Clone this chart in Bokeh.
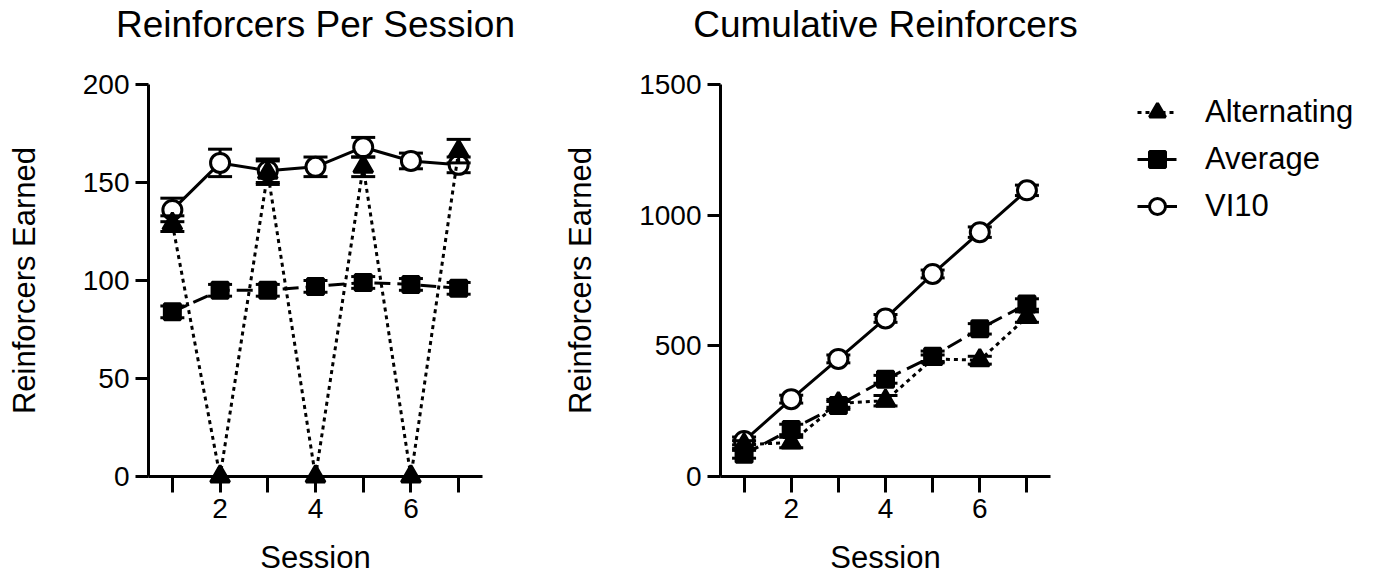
from bokeh.plotting import figure
from bokeh.layouts import row
from bokeh.models import FixedTicker, Legend, LegendItem, ColumnDataSource, Title
from bokeh.embed import file_html
from bokeh.resources import INLINE

# ---- data ----
sessions = [1, 2, 3, 4, 5, 6, 7]
x_ticks = [1, 2, 3, 4, 5, 6, 7]
x_tick_labels = {1: "", 2: "2", 3: "", 4: "4", 5: "", 6: "6", 7: ""}
series_names = ["Alternating", "Average", "VI10"]
titles = ["Reinforcers Per Session", "Cumulative Reinforcers"]

# Reinforcers per session (mean, SEM)
per_alt = [129, 0, 155, 0, 158, 0, 166]
per_alt_err = [4, 0, 6, 0, 5, 0, 6]
per_avg = [84, 95, 95, 97, 99, 98, 96]
per_avg_err = [3, 3, 3, 3, 3, 3, 3]
per_vi = [136, 160, 156, 158, 168, 161, 159]
per_vi_err = [6, 7, 6, 5, 5, 4, 4]
per_yticks = [0, 50, 100, 150, 200]

# Cumulative reinforcers (mean, SEM)
cum_alt = [122, 130, 280, 290, 450, 445, 610]
cum_alt_err = [15, 20, 15, 20, 15, 15, 20]
cum_avg = [85, 180, 272, 372, 460, 565, 660]
cum_avg_err = [15, 20, 15, 15, 20, 20, 20]
cum_vi = [136, 296, 450, 605, 775, 935, 1095]
cum_vi_err = [15, 15, 15, 15, 15, 20, 20]
cum_yticks = [0, 500, 1000, 1500]

FONT = "Liberation Sans"
LW = 3


def add_title(p, text):
    # spacer (closest to the frame) then the real title above it
    p.add_layout(Title(text=" ", text_font_size="1px", standoff=36), "above")
    p.add_layout(Title(text=text, text_font=FONT, text_font_size="37px",
                       text_font_style="normal", align="center",
                       text_color="black", standoff=2), "above")


def style_axes(p, yticks):
    p.xgrid.visible = False
    p.ygrid.visible = False
    p.outline_line_alpha = 0
    p.background_fill_color = "white"
    p.border_fill_color = "white"
    p.xaxis.ticker = FixedTicker(ticks=x_ticks)
    p.xaxis.major_label_overrides = x_tick_labels
    p.yaxis.ticker = FixedTicker(ticks=yticks)
    for ax in (p.xaxis[0], p.yaxis[0]):
        ax.axis_line_width = LW
        ax.axis_line_color = "black"
        ax.major_tick_line_width = LW
        ax.major_tick_line_color = "black"
        ax.major_tick_in = 0
        ax.minor_tick_line_alpha = 0
        ax.major_label_text_font = FONT
        ax.major_label_text_font_size = "28px"
        ax.major_label_text_color = "black"
        ax.axis_label_text_font = FONT
        ax.axis_label_text_font_size = "31px"
        ax.axis_label_text_font_style = "normal"
        ax.axis_label_text_color = "black"
    p.xaxis.major_tick_out = 16
    p.yaxis.major_tick_out = 13
    p.xaxis.major_label_standoff = 6
    p.yaxis.major_label_standoff = 6
    p.xaxis.axis_label_standoff = 19
    p.yaxis.axis_label_standoff = 38


def draw_series(p, y, err, marker, dash, size, fill, with_errors=True,
                level="overlay"):
    lo = [a - b for a, b in zip(y, err)]
    hi = [a + b for a, b in zip(y, err)]
    src = ColumnDataSource(dict(x=sessions, y=y, lo=lo, hi=hi))
    if with_errors:
        p.segment(x0="x", y0="lo", x1="x", y1="hi", source=src, line_width=LW,
                  line_color="black", level=level)
        p.scatter(x="x", y="lo", source=src, marker="dash", size=24,
                  line_width=LW, line_color="black", level=level)
        p.scatter(x="x", y="hi", source=src, marker="dash", size=24,
                  line_width=LW, line_color="black", level=level)
    ln = p.line(x="x", y="y", source=src, line_width=LW, line_color="black",
                line_dash=dash, level=level)
    sc = p.scatter(x="x", y="y", source=src, marker=marker, size=size,
                   line_width=LW, line_color="black", fill_color=fill,
                   level=level)
    return ln, sc


# ---- left panel ----
p1 = figure(width=560, height=578, x_range=(0.5, 7.5), y_range=(0, 200),
            output_backend="svg", toolbar_location=None, title=None,
            x_axis_label="Session", y_axis_label="Reinforcers Earned",
            min_border_left=148, min_border_right=78, min_border_top=0,
            min_border_bottom=102)
style_axes(p1, per_yticks)
add_title(p1, titles[0])
draw_series(p1, per_vi, per_vi_err, "circle", "solid", 19, "white")
draw_series(p1, per_avg, per_avg_err, "square", "16 7", 16, "black")
draw_series(p1, per_alt, per_alt_err, "triangle", "4 4", 19, "black")

# ---- right panel ----
p2 = figure(width=530, height=578, x_range=(0.5, 7.5), y_range=(0, 1500),
            output_backend="svg", toolbar_location=None, title=None,
            x_axis_label="Session", y_axis_label="Reinforcers Earned",
            min_border_left=155, min_border_right=40, min_border_top=0,
            min_border_bottom=102)
style_axes(p2, cum_yticks)
add_title(p2, titles[1])
draw_series(p2, cum_vi, cum_vi_err, "circle", "solid", 19, "white")
draw_series(p2, cum_avg, cum_avg_err, "square", "16 7", 16, "black")
draw_series(p2, cum_alt, cum_alt_err, "triangle", "4 4", 19, "black")

# ---- legend panel (its series lie outside its ranges, so only the key shows) ----
p3 = figure(width=286, height=578, x_range=(100, 101), y_range=(100, 101),
            output_backend="svg", toolbar_location=None, title=None,
            x_axis_type=None, y_axis_type=None,
            min_border_left=0, min_border_right=0, min_border_top=0,
            min_border_bottom=0)
p3.xgrid.visible = False
p3.ygrid.visible = False
p3.outline_line_alpha = 0
vi_r = draw_series(p3, cum_vi, cum_vi_err, "circle", "solid", 19, "white",
                   with_errors=False, level="glyph")
avg_r = draw_series(p3, cum_avg, cum_avg_err, "square", "16 7", 16, "black",
                    with_errors=False, level="glyph")
alt_r = draw_series(p3, cum_alt, cum_alt_err, "triangle", "4 4", 19, "black",
                    with_errors=False, level="glyph")

legend = Legend(
    items=[LegendItem(label=series_names[0], renderers=list(alt_r)),
           LegendItem(label=series_names[1], renderers=list(avg_r)),
           LegendItem(label=series_names[2], renderers=list(vi_r))],
    location=(47, 247), glyph_width=40, glyph_height=46, label_height=46,
    spacing=1, padding=0, margin=0, label_standoff=28,
    label_text_font=FONT, label_text_font_size="31px", label_text_color="black",
    border_line_alpha=0, background_fill_alpha=0)
p3.add_layout(legend, "center")

layout = row(p1, p2, p3)
open("out.html", "w").write(file_html(layout, INLINE))
